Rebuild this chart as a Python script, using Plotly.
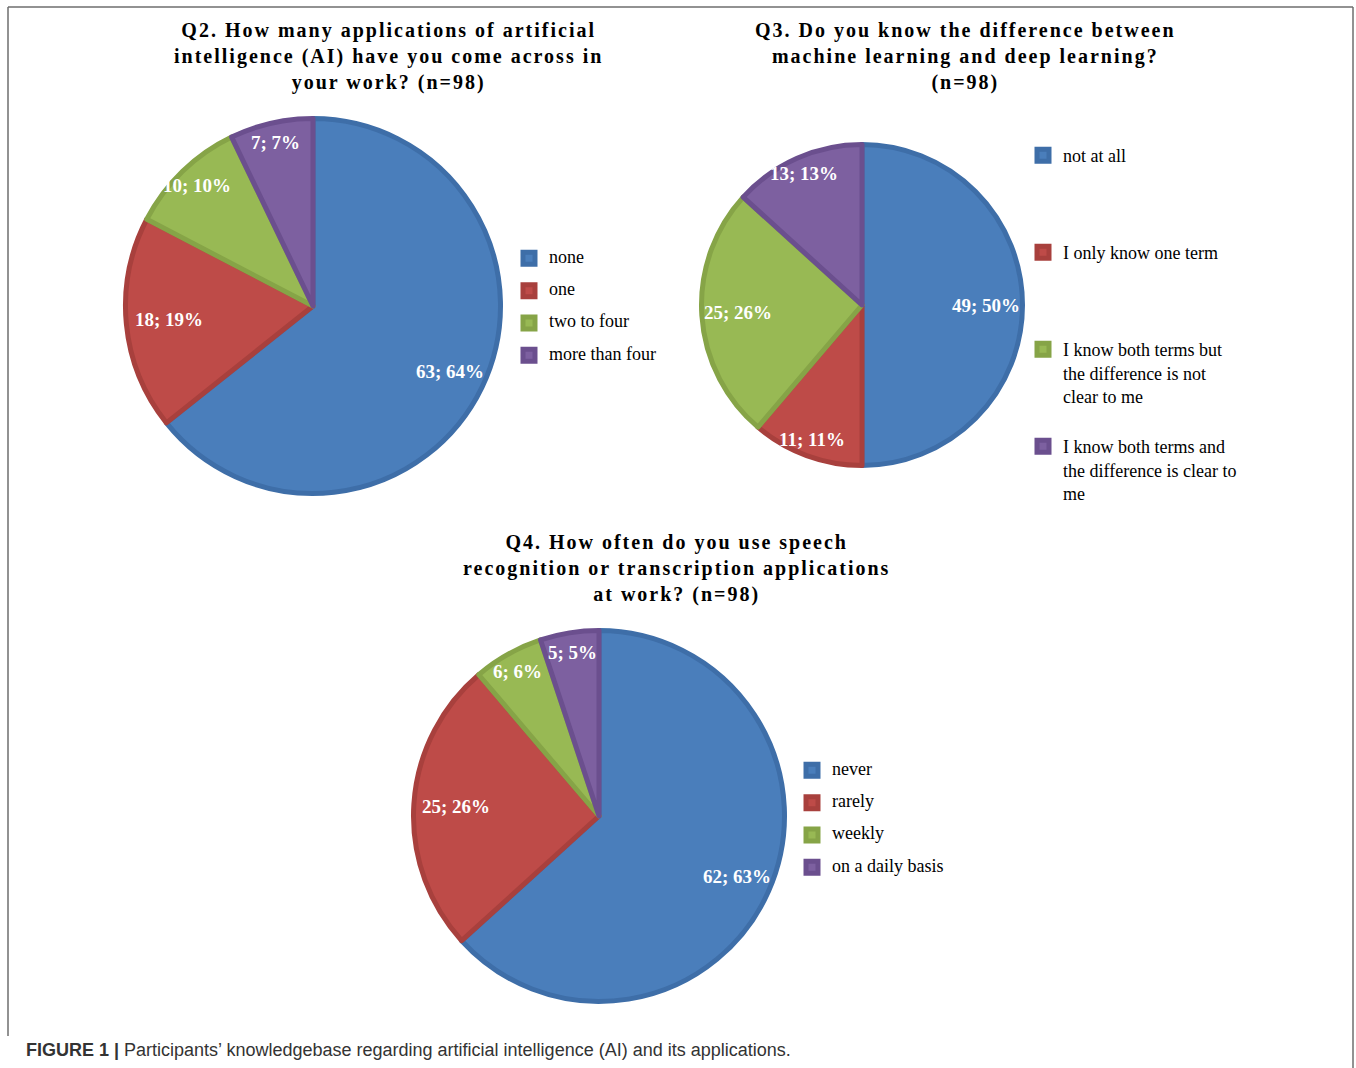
import math
import plotly.graph_objects as go

W, H = 1356, 1068

# ---------------- data ----------------
q2_title = "Q2. How many applications of artificial<br>intelligence (AI) have you come across in<br>your work? (n=98)"
q2_labels = ["none", "one", "two to four", "more than four"]
q2_values = [63, 18, 10, 7]
q2_pct = [64, 19, 10, 7]

q3_title = "Q3. Do you know the difference between<br>machine learning and deep learning?<br>(n=98)"
q3_labels = ["not at all", "I only know one term",
             "I know both terms but<br>the difference is not<br>clear to me",
             "I know both terms and<br>the difference is clear to<br>me"]
q3_values = [49, 11, 25, 13]
q3_pct = [50, 11, 26, 13]

q4_title = "Q4. How often do you use speech<br>recognition or transcription applications<br>at work? (n=98)"
q4_labels = ["never", "rarely", "weekly", "on a daily basis"]
q4_values = [62, 25, 6, 5]
q4_pct = [63, 26, 6, 5]

caption = "<b>FIGURE 1 |</b> Participants’ knowledgebase regarding artificial intelligence (AI) and its applications."

# ---------------- style ----------------
fills = ["#4a7ebb", "#be4b48", "#98b954", "#7d60a0"]
edges = ["#3e6ea8", "#a8403d", "#86a447", "#6b4f8e"]
SERIF = "Liberation Serif"
LW = 5

# pie geometry in pixels: centre x, centre y, radius; title centre; legend box
charts = [
    dict(title=q2_title, labels=q2_labels, values=q2_values, pct=q2_pct,
         cx=313, cy=306, r=190, tx=388, ty=57, lx=509, ly=244.5, lines=2, lfs=11.27, legend="legend"),
    dict(title=q3_title, labels=q3_labels, values=q3_values, pct=q3_pct,
         cx=862, cy=305, r=163, tx=965, ty=57, lx=1023, ly=137, lines=4, lfs=18.08, legend="legend2"),
    dict(title=q4_title, labels=q4_labels, values=q4_values, pct=q4_pct,
         cx=599, cy=816, r=188, tx=676, ty=568, lx=792, ly=756.5, lines=2, lfs=11.27, legend="legend3"),
]


def legend_text(label, nlines):
    parts = label.split("<br>")
    parts = ['<span style="font-size:18px">%s</span>' % p for p in parts]
    while len(parts) < nlines:
        parts.append("&nbsp;")
    return "<br>".join(parts)


def spaced(title):
    return "<br>".join('<span style="letter-spacing:2px">%s</span>' % p for p in title.split("<br>"))


def label_radius(share):
    if share > 0.55:
        return 0.80
    if share >= 0.15:
        return 0.76
    return 0.88


fig = go.Figure()
annotations = []
layout_legends = {}

for c in charts:
    rr = c["r"] - LW / 2
    dom_x = [(c["cx"] - rr) / W, (c["cx"] + rr) / W]
    dom_y = [1 - (c["cy"] + rr) / H, 1 - (c["cy"] - rr) / H]
    fig.add_trace(go.Pie(
        labels=[legend_text(l, c["lines"]) for l in c["labels"]],
        values=c["values"],
        sort=False, direction="clockwise", rotation=0,
        marker=dict(colors=fills, line=dict(color=edges, width=LW)),
        textinfo="none", hoverinfo="label+value",
        domain=dict(x=dom_x, y=dom_y),
        legend=c["legend"], showlegend=True,
    ))
    layout_legends[c["legend"]] = dict(
        x=c["lx"] / W, y=1 - c["ly"] / H, xanchor="left", yanchor="top",
        bgcolor="rgba(0,0,0,0)", valign="top",
        font=dict(family=SERIF, size=c["lfs"], color="black"),
    )
    # data labels, placed along the middle angle of each slice
    total = sum(c["values"])
    cum = 0
    for v, p in zip(c["values"], c["pct"]):
        share = v / total
        mid = (cum + v / 2) / total * 2 * math.pi
        cum += v
        f = label_radius(share)
        px = c["cx"] + f * c["r"] * math.sin(mid)
        py = c["cy"] - f * c["r"] * math.cos(mid)
        annotations.append(dict(
            x=px / W, y=1 - py / H, xref="paper", yref="paper",
            xanchor="center", yanchor="middle",
            text="%d; %d%%" % (v, p), showarrow=False,
            font=dict(family=SERIF, size=19, color="white", weight="bold"),
        ))
    annotations.append(dict(
        x=c["tx"] / W, y=1 - c["ty"] / H, xref="paper", yref="paper",
        xanchor="center", yanchor="middle",
        text=spaced(c["title"]), showarrow=False, align="center",
        font=dict(family=SERIF, size=20, color="black", weight="bold"),
    ))

annotations.append(dict(
    x=24 / W, y=1 - 1050 / H, xref="paper", yref="paper", xanchor="left", yanchor="middle",
    text=caption, showarrow=False,
    font=dict(family="Liberation Sans", size=18, color="#333333"),
))

frame = "#6e6e6e"
shapes = [
    dict(type="line", xref="paper", yref="paper", x0=8 / W, x1=1353 / W, y0=1 - 7 / H, y1=1 - 7 / H,
         line=dict(color=frame, width=1.5)),
    dict(type="line", xref="paper", yref="paper", x0=8 / W, x1=8 / W, y0=1 - 7 / H, y1=1 - 1036 / H,
         line=dict(color=frame, width=1.5)),
    dict(type="line", xref="paper", yref="paper", x0=1353 / W, x1=1353 / W, y0=1 - 7 / H, y1=0,
         line=dict(color=frame, width=1.5)),
]

fig.update_layout(
    width=W, height=H, margin=dict(l=0, r=0, t=0, b=0),
    paper_bgcolor="white", plot_bgcolor="white",
    annotations=annotations, shapes=shapes,
    **layout_legends,
)

fig.write_html("out.html")
